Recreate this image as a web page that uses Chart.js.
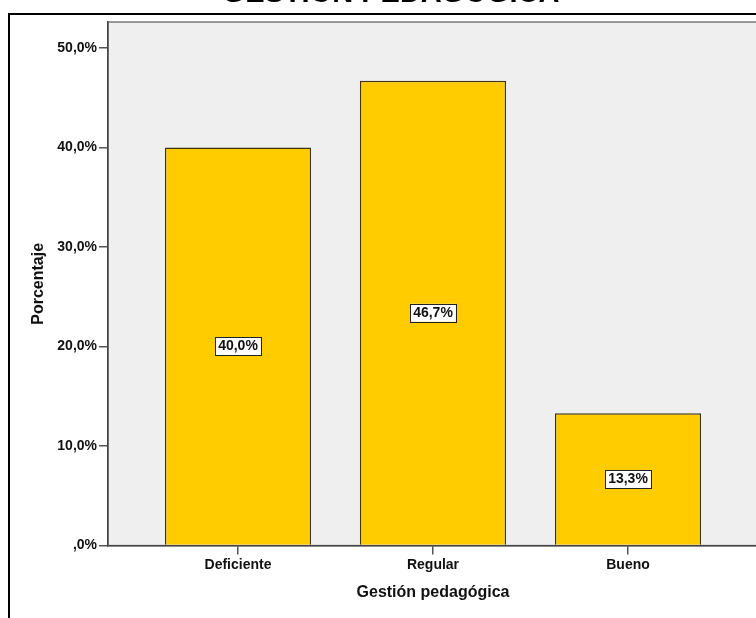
<!DOCTYPE html>
<html>
<head>
<meta charset="utf-8">
<script src="https://cdn.jsdelivr.net/npm/chart.js@4.4.1/dist/chart.umd.min.js"></script>
<style>
  html, body { margin: 0; padding: 0; background: #fff; overflow: hidden; }
  #wrap { position: absolute; left: 0; top: 0; width: 800px; height: 640px; }
</style>
</head>
<body>
<div id="wrap"><canvas id="chart" width="800" height="640"></canvas></div>
<script>
// Gestión pedagógica – distribución porcentual
const categories = ['Deficiente', 'Regular', 'Bueno'];
const percentages = [40.0, 46.7, 13.3];
const yTickValues = [0, 10, 20, 30, 40, 50];
const yTickLabels = [',0%', '10,0%', '20,0%', '30,0%', '40,0%', '50,0%'];
const chartTitle = 'GESTIÓN PEDAGÓGICA';
const xAxisTitle = 'Gestión pedagógica';
const yAxisTitle = 'Porcentaje';

const FONT = 'Arial, "Liberation Sans", sans-serif';
Chart.defaults.font.family = FONT;
Chart.defaults.color = '#000';

const fmtPct = v => v.toFixed(1).replace('.', ',') + '%';

// Frame, plot background and the (partly hidden) heading
const backdrop = {
  id: 'backdrop',
  beforeDraw(chart) {
    const { ctx, chartArea: a } = chart;
    ctx.save();
    ctx.fillStyle = '#fff';
    ctx.fillRect(0, 0, chart.width, chart.height);
    // heading above the frame
    ctx.fillStyle = '#000';
    ctx.font = 'bold 29px ' + FONT;
    ctx.textAlign = 'center';
    ctx.textBaseline = 'alphabetic';
    ctx.fillText(chartTitle, 391, 1.5);
    // outer frame
    ctx.strokeStyle = '#000';
    ctx.lineWidth = 2;
    ctx.strokeRect(9, 14, 2000, 2000);
    // plot area
    ctx.fillStyle = '#efefef';
    ctx.fillRect(a.left, a.top, a.right - a.left, a.bottom - a.top);
    ctx.strokeStyle = '#7a7a7a';
    ctx.lineWidth = 1.5;
    ctx.strokeRect(a.left, a.top, a.right - a.left, a.bottom - a.top);
    ctx.restore();
  }
};

// Value boxes in the middle of each bar
const valueBoxes = {
  id: 'valueBoxes',
  afterDatasetsDraw(chart) {
    const { ctx } = chart;
    const meta = chart.getDatasetMeta(0);
    ctx.save();
    ctx.font = 'bold 14px ' + FONT;
    ctx.textAlign = 'center';
    ctx.textBaseline = 'middle';
    meta.data.forEach((bar, i) => {
      const text = fmtPct(percentages[i]);
      const cy = (bar.y + bar.base) / 2;
      const w = ctx.measureText(text).width + 6;
      const h = 18;
      ctx.fillStyle = '#fff';
      ctx.fillRect(bar.x - w / 2, cy - h / 2, w, h);
      ctx.strokeStyle = '#222';
      ctx.lineWidth = 1;
      ctx.strokeRect(Math.round(bar.x - w / 2) + 0.5, Math.round(cy - h / 2) + 0.5, Math.round(w), h);
      ctx.fillStyle = '#111';
      ctx.fillText(text, bar.x, cy + 0.5);
    });
    ctx.restore();
  }
};

new Chart(document.getElementById('chart'), {
  type: 'bar',
  data: {
    datasets: [{
      data: percentages.map((v, i) => ({ x: i, y: v })),
      backgroundColor: '#ffcc00',
      borderColor: '#3e3516',
      borderWidth: 1.5,
      categoryPercentage: 1,
      barPercentage: 0.75
    }]
  },
  options: {
    responsive: false,
    devicePixelRatio: 1,
    animation: false,
    layout: { padding: { top: 22, left: 0, right: 42, bottom: 24.4 } },
    plugins: {
      legend: { display: false },
      tooltip: { enabled: false }
    },
    scales: {
      x: {
        type: 'linear',
        offset: false,
        min: -2 / 3,
        max: 8 / 3,
        afterBuildTicks: s => { s.ticks = categories.map((c, i) => ({ value: i })); },
        afterFit: s => { s.height = 70; },
        ticks: {
          callback: v => categories[v],
          font: { size: 14, weight: 'bold' },
          color: '#111',
          padding: 2,
          maxRotation: 0,
          autoSkip: false
        },
        grid: { offset: false, drawOnChartArea: false, drawTicks: true, tickLength: 9, color: '#555', lineWidth: 1.5 },
        border: { display: true, color: '#444', width: 1.5 },
        title: {
          display: true,
          text: xAxisTitle,
          font: { size: 16, weight: 'bold' },
          color: '#111',
          padding: { top: 0, bottom: 13 }
        }
      },
      y: {
        min: 0,
        max: 52.6,
        afterBuildTicks: s => { s.ticks = yTickValues.map(v => ({ value: v })); },
        afterFit: s => { s.width = 108; },
        ticks: {
          callback: v => yTickLabels[yTickValues.indexOf(v)],
          font: { size: 14, weight: 'bold' },
          color: '#111',
          padding: 2
        },
        grid: { drawOnChartArea: false, drawTicks: true, tickLength: 9, color: '#555', lineWidth: 1.5 },
        border: { display: true, color: '#444', width: 1.5 },
        title: {
          display: true,
          text: yAxisTitle,
          font: { size: 16, weight: 'bold' },
          color: '#111',
          padding: { top: 29, bottom: 0 }
        }
      }
    }
  },
  plugins: [backdrop, valueBoxes]
});
</script>
</body>
</html>
